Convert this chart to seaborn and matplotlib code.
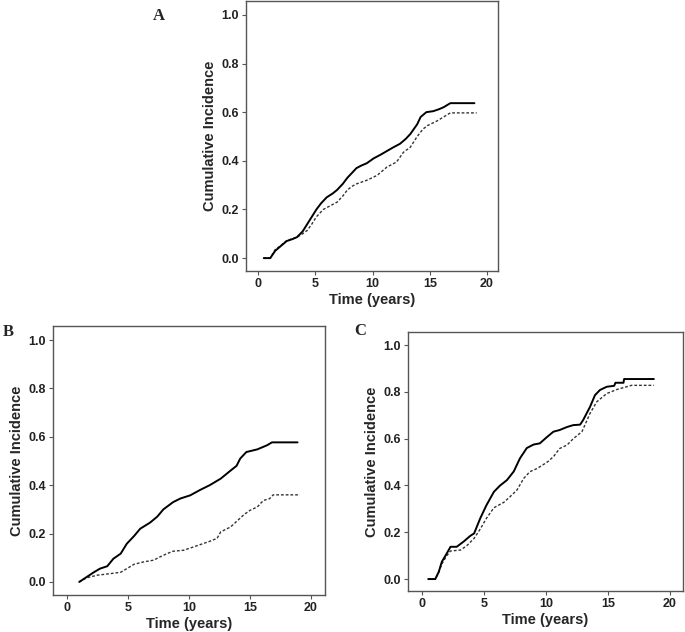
import matplotlib
matplotlib.use("Agg")
import matplotlib.pyplot as plt
import seaborn as sns

# ---------------- data ----------------
a_solid_t = [0.5, 1.07, 1.5, 1.95, 2.5, 3.0, 3.4, 3.9, 4.3, 4.7, 5.1, 5.5, 6.0, 6.5, 6.9, 7.4, 7.8, 8.2, 8.6, 9.0, 9.5, 10.1, 10.7, 11.25, 11.8, 12.4, 12.9, 13.3, 13.9, 14.2, 14.7, 15.3, 15.8, 16.2, 16.8, 18.9]
a_solid_y = [0.0, 0.0, 0.03, 0.048, 0.07, 0.078, 0.086, 0.11, 0.14, 0.17, 0.20, 0.225, 0.25, 0.265, 0.28, 0.305, 0.33, 0.35, 0.37, 0.38, 0.39, 0.41, 0.425, 0.44, 0.455, 0.47, 0.49, 0.51, 0.55, 0.58, 0.60, 0.604, 0.612, 0.62, 0.637, 0.637]
a_dash_t = [0.5, 1.07, 1.5, 1.95, 2.5, 3.0, 3.4, 3.9, 4.3, 4.7, 5.1, 5.7, 6.3, 6.9, 7.4, 7.8, 8.2, 8.6, 9.5, 10.4, 11.25, 12.1, 12.7, 13.3, 13.9, 14.4, 14.8, 15.6, 16.2, 16.8, 19.1]
a_dash_y = [0.0, 0.0, 0.035, 0.05, 0.072, 0.08, 0.086, 0.10, 0.114, 0.14, 0.17, 0.20, 0.215, 0.23, 0.255, 0.28, 0.295, 0.305, 0.32, 0.34, 0.374, 0.395, 0.435, 0.456, 0.50, 0.53, 0.545, 0.563, 0.58, 0.597, 0.597]

b_solid_t = [1.0, 1.6, 2.2, 2.7, 3.3, 3.8, 4.4, 4.9, 5.5, 6.0, 6.8, 7.4, 7.9, 8.7, 9.3, 10.1, 10.9, 11.7, 12.6, 13.4, 13.9, 14.2, 14.7, 15.6, 16.4, 16.8, 18.9]
b_solid_y = [0.0, 0.02, 0.04, 0.055, 0.065, 0.096, 0.117, 0.158, 0.19, 0.22, 0.245, 0.27, 0.30, 0.33, 0.345, 0.358, 0.38, 0.40, 0.427, 0.46, 0.48, 0.51, 0.537, 0.548, 0.565, 0.577, 0.577]
b_dash_t = [1.0, 1.6, 2.5, 3.5, 4.4, 4.9, 5.5, 6.3, 7.1, 7.6, 8.2, 8.7, 9.55, 10.1, 10.9, 11.7, 12.3, 12.6, 13.4, 13.9, 14.5, 15.0, 15.6, 16.1, 16.6, 16.9, 19.1]
b_dash_y = [0.0, 0.017, 0.028, 0.034, 0.04, 0.055, 0.073, 0.083, 0.09, 0.103, 0.117, 0.127, 0.131, 0.14, 0.154, 0.168, 0.18, 0.207, 0.227, 0.25, 0.278, 0.296, 0.31, 0.337, 0.344, 0.36, 0.36]

c_solid_t = [0.5, 1.07, 1.35, 1.6, 2.0, 2.3, 2.8, 3.35, 3.9, 4.2, 4.7, 5.2, 5.8, 6.3, 6.85, 7.4, 7.9, 8.45, 9.0, 9.5, 10.1, 10.6, 11.1, 11.7, 12.2, 12.75, 13.0, 13.55, 13.95, 14.35, 14.9, 15.5, 15.6, 16.25, 16.3, 18.7]
c_solid_y = [0.0, 0.0, 0.031, 0.074, 0.11, 0.138, 0.138, 0.16, 0.185, 0.195, 0.26, 0.316, 0.373, 0.40, 0.423, 0.46, 0.516, 0.56, 0.575, 0.58, 0.608, 0.63, 0.637, 0.65, 0.658, 0.66, 0.68, 0.736, 0.786, 0.808, 0.822, 0.826, 0.839, 0.839, 0.855, 0.855]
c_dash_t = [0.5, 1.07, 1.35, 1.6, 2.0, 2.3, 3.1, 3.6, 4.2, 4.7, 5.2, 5.8, 6.6, 7.1, 7.65, 8.2, 8.7, 9.3, 10.1, 10.6, 11.1, 11.7, 12.2, 12.9, 13.55, 14.1, 14.9, 15.7, 16.5, 16.9, 18.7]
c_dash_y = [0.0, 0.0, 0.028, 0.065, 0.10, 0.12, 0.124, 0.142, 0.174, 0.214, 0.26, 0.305, 0.328, 0.352, 0.38, 0.43, 0.459, 0.473, 0.50, 0.523, 0.558, 0.573, 0.60, 0.63, 0.708, 0.758, 0.793, 0.81, 0.822, 0.828, 0.828]

x_ticks = [0, 5, 10, 15, 20]
y_ticks = [0.0, 0.2, 0.4, 0.6, 0.8, 1.0]
y_tick_labels = ["0.0", "0.2", "0.4", "0.6", "0.8", "1.0"]
x_label = "Time (years)"
y_label = "Cumulative Incidence"
panel_letters = ["A", "B", "C"]

# ---------------- figure ----------------
sns.set_style("ticks")
plt.rcParams["font.family"] = ["Liberation Sans", "DejaVu Sans"]

W, H = 685, 632
fig = plt.figure(figsize=(W / 100, H / 100), dpi=100)


def px_axes(left, top, right, bottom):
    return fig.add_axes([left / W, 1 - bottom / H, (right - left) / W, (bottom - top) / H])


panels = [
    dict(box=(246, 1, 498, 271), xlim=(-1.05, 20.96), ylim=(-0.053, 1.057),
         solid=(a_solid_t, a_solid_y), dash=(a_dash_t, a_dash_y), letter_xy=(159, 16)),
    dict(box=(53, 326, 325, 595), xlim=(-1.15, 21.15), ylim=(-0.054, 1.058),
         solid=(b_solid_t, b_solid_y), dash=(b_dash_t, b_dash_y), letter_xy=(8, 332)),
    dict(box=(408, 332, 683, 591), xlim=(-1.13, 21.05), ylim=(-0.051, 1.056),
         solid=(c_solid_t, c_solid_y), dash=(c_dash_t, c_dash_y), letter_xy=(360, 331)),
]

for p, letter in zip(panels, panel_letters):
    ax = px_axes(*p["box"])
    st, sy = p["solid"]
    dt, dy = p["dash"]
    sns.lineplot(x=dt, y=dy, ax=ax, color="#333333", linewidth=1.0,
                 linestyle=(0, (2.0, 1.4)), estimator=None, sort=False)
    sns.lineplot(x=st, y=sy, ax=ax, color="black", linewidth=1.4,
                 estimator=None, sort=False)
    ax.set_xlim(*p["xlim"])
    ax.set_ylim(*p["ylim"])
    ax.set_xticks(x_ticks)
    ax.set_xticklabels([str(t) for t in x_ticks])
    ax.set_yticks(y_ticks)
    ax.set_yticklabels(y_tick_labels)
    for s in ax.spines.values():
        s.set_visible(True)
        s.set_color("#555555")
        s.set_linewidth(1.0)
    ax.tick_params(axis="both", direction="out", length=3, width=0.8, color="#555555",
                   labelsize=9, pad=2, top=False, right=False)
    for lab in ax.get_xticklabels() + ax.get_yticklabels():
        lab.set_fontweight("bold")
        lab.set_color("#222222")
    ax.set_xlabel(x_label, fontsize=10.5, fontweight="bold", labelpad=2)
    ax.set_ylabel(y_label, fontsize=10.5, fontweight="bold", labelpad=3)
    lx, ly = p["letter_xy"]
    fig.text(lx / W, 1 - ly / H, letter, fontsize=12, fontweight="bold",
             family=["Liberation Serif", "DejaVu Serif"], ha="center", va="center")

fig.savefig("out.png", dpi=100, facecolor="white")
